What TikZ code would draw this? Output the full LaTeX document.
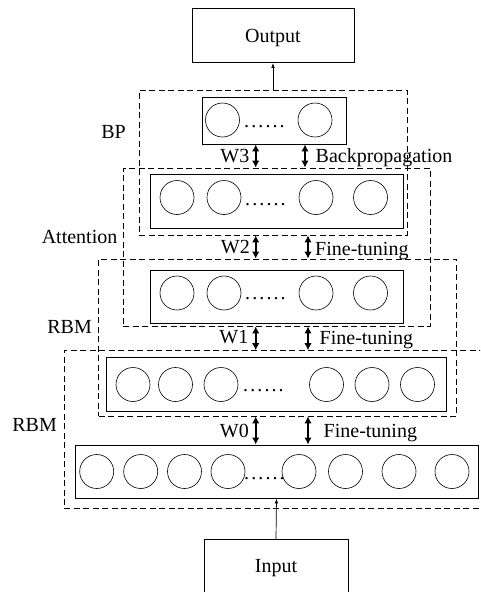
\documentclass[tikz,border=0pt]{standalone}
\usepackage{fontspec}
\setmainfont{Liberation Serif}
\usetikzlibrary{arrows.meta}
\newcommand\mydotrow{.\kern2.1pt.\kern2.1pt.\kern2.1pt.\kern2.1pt.\kern2.1pt.}
\begin{document}
\begin{tikzpicture}[x=1pt,y=-1pt,
  every node/.style={font=\fontsize{20}{24}\selectfont},
  layer/.style={draw, line width=0.9pt, inner sep=0pt, rectangle},
  neuron/.style={draw, circle, line width=0.6pt, minimum size=34pt, inner sep=0pt},
  dbox/.style={draw, dash pattern=on 6pt off 3.5pt, line width=0.8pt, inner sep=0pt, rectangle},
  lbl/.style={inner sep=0pt},
  io/.style={draw, line width=0.9pt, inner sep=0pt, rectangle},
  dbl/.style={{Latex[length=7pt,width=7.5pt]}-{Latex[length=7pt,width=7.5pt]}, line width=1.6pt},
  flow/.style={-{Latex[length=5pt,width=3.5pt]}, line width=0.7pt},
  dotsrow/.style={inner sep=0pt, anchor=base west}
]
\useasboundingbox (0,0) rectangle (480,592);
\clip (0,0) rectangle (480,592);

% dashed group boxes
\node[dbox, minimum width=268pt, minimum height=145pt] (bp) at (273,162.5) {};
\node[dbox, minimum width=307pt, minimum height=158pt] (att) at (276.5,247) {};
\node[dbox, minimum width=358pt, minimum height=157pt] (rbma) at (277.8,337.5) {};
\node[dbox, minimum width=436pt, minimum height=157.4pt] (rbmb) at (282,429.3) {};

% output / input
\node[io, anchor=north, minimum width=162pt, text height=34pt, text depth=20pt] (out) at (273,8) {Output};
\node[io, anchor=north, minimum width=144pt, text height=33pt, text depth=30pt] (in) at (276,539) {Input};

% layers
\node[layer, minimum width=144pt, minimum height=47pt] (L1) at (274,120.5) {};
\node[layer, minimum width=253pt, minimum height=54pt] (L2) at (276.5,201) {};
\node[layer, minimum width=253pt, minimum height=53pt] (L3) at (276.5,296.5) {};
\node[layer, minimum width=340pt, minimum height=54pt] (L4) at (276,384) {};
\node[layer, minimum width=403pt, minimum height=53pt] (L5) at (276.5,471.5) {};

% neurons layer 1
\node[neuron] (n11) at (222.5,120) {};
\node[neuron] (n12) at (315,120) {};
\node[dotsrow] (d1) at (244,127.5) {\mydotrow};
% layer 2
\node[neuron] (n21) at (177,197.5) {};
\node[neuron] (n22) at (224,197.5) {};
\node[neuron] (n23) at (316,197.5) {};
\node[neuron] (n24) at (370.5,197.5) {};
\node[dotsrow] (d2) at (245,205) {\mydotrow};
% layer 3
\node[neuron] (n31) at (177,293) {};
\node[neuron] (n32) at (224,293) {};
\node[neuron] (n33) at (316,293) {};
\node[neuron] (n34) at (370.5,293) {};
\node[dotsrow] (d3) at (245,299) {\mydotrow};
% layer 4
\node[neuron] (n41) at (133,384.5) {};
\node[neuron] (n42) at (175.5,384.5) {};
\node[neuron] (n43) at (221,384.5) {};
\node[neuron] (n44) at (326.5,384.5) {};
\node[neuron] (n45) at (372,384.5) {};
\node[neuron] (n46) at (417.5,384.5) {};
\node[dotsrow] (d4) at (243,391) {\mydotrow};
% layer 5
\node[neuron] (n51) at (96.7,471.5) {};
\node[neuron] (n52) at (140.7,471.5) {};
\node[neuron] (n53) at (184.5,471.5) {};
\node[neuron] (n54) at (228,471.5) {};
\node[neuron] (n55) at (299,471.5) {};
\node[neuron] (n56) at (345.5,471.5) {};
\node[neuron] (n57) at (399,471.5) {};
\node[neuron] (n58) at (452,471.5) {};
\node[dotsrow] (d5) at (244,479.5) {\mydotrow};

% group labels
\node[lbl, anchor=base east] (lbp) at (126,138) {BP};
\node[lbl, anchor=base east] (latt) at (117.5,243) {Attention};
\node[lbl, anchor=base east] (lrbma) at (92,333) {RBM};
\node[lbl, anchor=base east] (lrbmb) at (57,431) {RBM};

% arrow columns
\coordinate (cw) at (255.7,0);
\coordinate (cb) at (305,0);
\coordinate (cf) at (308,0);

% weight arrows
\draw[dbl] (L1.south -| cw) -- (att.north -| cw);
\draw[dbl] (L1.south -| cb) -- (att.north -| cb);
\draw[dbl] (bp.south -| cw) -- (rbma.north -| cw);
\draw[dbl] (bp.south -| cf) -- (rbma.north -| cf);
\draw[dbl] (att.south -| cw) -- (rbmb.north -| cw);
\draw[dbl] (att.south -| cf) -- (rbmb.north -| cf);
\draw[dbl] (rbma.south -| cw) -- (L5.north -| cw);
\draw[dbl] (rbma.south -| cf) -- (L5.north -| cf);

% arrow labels
\node[lbl, anchor=base east] (w3) at (249.5,162) {W3};
\node[lbl, anchor=base west] (bpl) at (315.5,162.5) {Backpropagation};
\node[lbl, anchor=base east] (w2) at (250,253) {W2};
\node[lbl, anchor=base west] (ft2) at (315,255) {Fine-tuning};
\node[lbl, anchor=base east] (w1) at (248.5,343) {W1};
\node[lbl, anchor=base west] (ft1) at (319.5,344) {Fine-tuning};
\node[lbl, anchor=base east] (w0) at (249,437) {W0};
\node[lbl, anchor=base west] (ft0) at (323.5,437) {Fine-tuning};

% data flow
\draw[flow] (bp.north) -- (out.south);
\draw[flow] (in.north) -- (L5.south);
\end{tikzpicture}
\end{document}
